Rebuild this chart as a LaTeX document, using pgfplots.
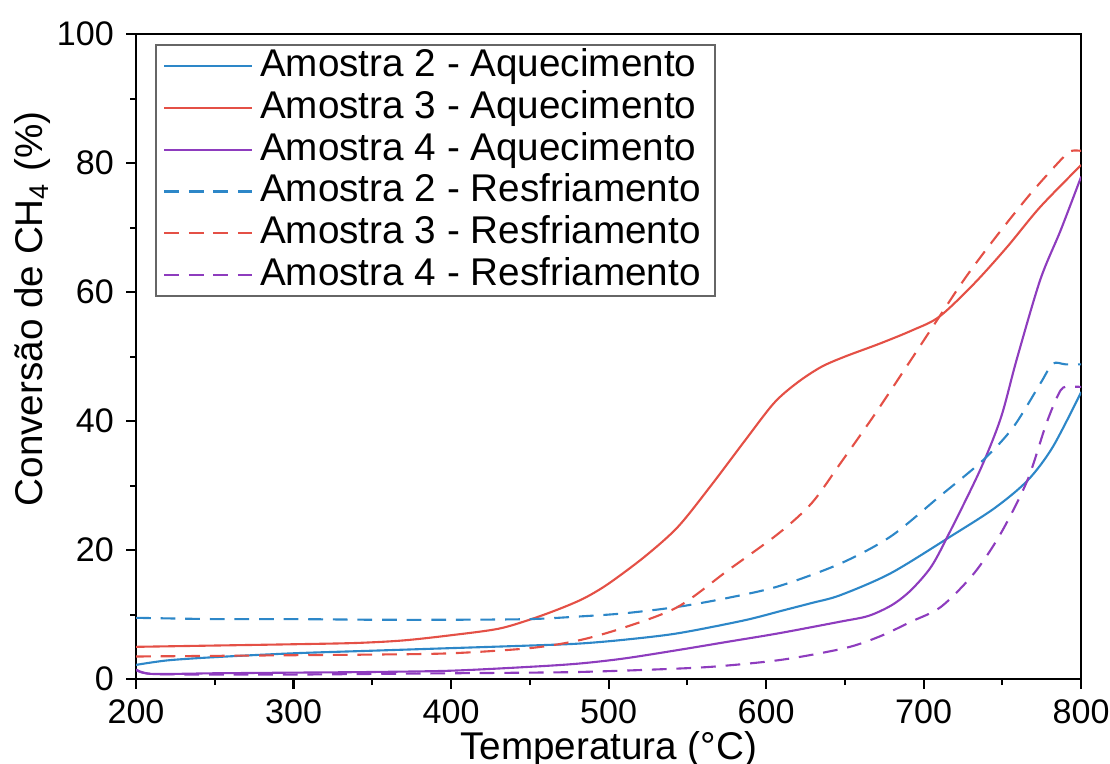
\documentclass[border=0pt]{standalone}
\usepackage{fontspec}
\setmainfont{Liberation Sans}
\usepackage{pgfplots}
\pgfplotsset{compat=1.18}

\definecolor{cblue}{RGB}{45,135,200}
\definecolor{cred}{RGB}{228,80,70}
\definecolor{cpurple}{RGB}{142,60,190}

\begin{document}
\begin{tikzpicture}
\begin{axis}[
    at={(0pt,0pt)}, anchor=origin,
    scale only axis,
    width=268.9pt, height=183.5pt,
    xmin=200, xmax=800, ymin=0, ymax=100,
    xtick={200,300,...,800}, ytick={0,20,...,100},
    minor x tick num=1, minor y tick num=1,
    tick align=outside, xtick pos=left, ytick pos=left,
    major tick length=2.8pt, minor tick length=1.7pt,
    axis line style={line width=0.7pt},
    every tick/.style={black, line width=0.6pt},
    tick label style={font=\fontsize{9.7}{11}\selectfont},
    xticklabel style={yshift=0.6pt},
    /pgf/number format/assume math mode=true,
    xlabel={Temperatura (°C)},
    ylabel={Conversão de CH\textsubscript{4} (\%)},
    label style={font=\fontsize{11}{13}\selectfont},
    xlabel style={at={(axis description cs:0.5,0)}, anchor=base, yshift=-22.8pt},
    ylabel style={at={(axis description cs:0,0.574)}, anchor=base, yshift=26.5pt},
    legend style={at={(0.0201,0.9845)}, anchor=north west,
        draw=black!60, line width=0.6pt,
        font=\fontsize{11}{13}\selectfont,
        inner xsep=2pt, inner ysep=0pt, row sep=0pt,
        nodes={inner ysep=0.5pt, inner xsep=2pt, text height=8.4pt, text depth=2.5pt}},
    legend cell align=left,
    legend image code/.code={\draw[#1] (0pt,0pt) -- (25pt,0pt);},
    every axis plot/.append style={line width=0.6pt, smooth, tension=0.5},
    dashed/.style={dash pattern=on 4.2pt off 2.8pt},
]

% Amostra 2 - Aquecimento
\addplot[cblue] coordinates {
(200,2.2) (220,2.9) (250,3.4) (300,4.0) (350,4.4) (400,4.8) (450,5.2) (481,5.5)
(510,6.1) (544,7.1) (586,9.1) (610,10.6) (629,11.8) (647,13.0) (679,16.4)
(717,22.1) (745,26.5) (766,30.8) (782,36.0) (800,44.5)};

% Amostra 3 - Aquecimento
\addplot[cred] coordinates {
(200,5.0) (250,5.2) (300,5.4) (340,5.6) (370,6.0) (400,6.8) (430,7.8) (451,9.3)
(470,11.0) (485,12.6) (500,14.8) (523,19.0) (544,23.6) (565,30.0) (586,36.8)
(605,42.8) (620,46.0) (635,48.4) (650,50.0) (672,52.0) (693,54.1) (710,56.2)
(732,61.3) (753,67.0) (774,73.2) (800,79.7)};

% Amostra 4 - Aquecimento
\addplot[cpurple] coordinates {
(200,1.4) (210,0.8) (250,0.9) (300,1.0) (350,1.1) (400,1.3) (450,1.9) (481,2.4)
(510,3.2) (544,4.5) (576,5.8) (608,7.1) (647,8.9) (665,9.8) (680,11.5) (692,13.8)
(705,17.5) (717,23.0) (736,32.5) (749,40.5) (759,49.5) (774,61.9) (787,69.6) (800,77.9)};

% Amostra 2 - Resfriamento
\addplot[cblue, dashed] coordinates {
(200,9.5) (250,9.3) (300,9.3) (350,9.2) (400,9.2) (450,9.3) (481,9.7) (510,10.2)
(544,11.2) (576,12.6) (608,14.4) (647,17.9) (679,22.1) (710,28.3) (738,34.0)
(757,39.1) (774,45.8) (782,48.9) (790,48.8) (800,48.8)};

% Amostra 3 - Resfriamento
\addplot[cred, dashed] coordinates {
(200,3.5) (250,3.6) (300,3.7) (350,3.8) (400,4.0) (450,4.8) (481,6.0) (510,8.0)
(544,11.2) (576,16.9) (608,22.6) (629,27.3) (647,33.4) (668,40.7) (689,48.4)
(710,56.2) (727,62.4) (746,68.6) (768,75.3) (789,81.0) (794,81.9) (800,81.9)};

% Amostra 4 - Resfriamento
\addplot[cpurple, dashed] coordinates {
(200,1.5) (210,0.8) (250,0.7) (300,0.7) (350,0.8) (400,0.9) (450,1.0) (481,1.1)
(520,1.4) (565,1.9) (610,3.0) (650,4.8) (672,6.6) (692,8.9) (711,11.2) (732,16.4)
(749,22.6) (766,30.9) (778,39.7) (787,44.8) (793,45.3) (800,45.3)};

\legend{Amostra 2 - Aquecimento, Amostra 3 - Aquecimento, Amostra 4 - Aquecimento,
        Amostra 2 - Resfriamento, Amostra 3 - Resfriamento, Amostra 4 - Resfriamento}
\end{axis}
\pgfresetboundingbox
\path[use as bounding box] (-38.7pt,-23.9pt) rectangle (277.1pt,193.2pt);
\end{tikzpicture}
\end{document}
